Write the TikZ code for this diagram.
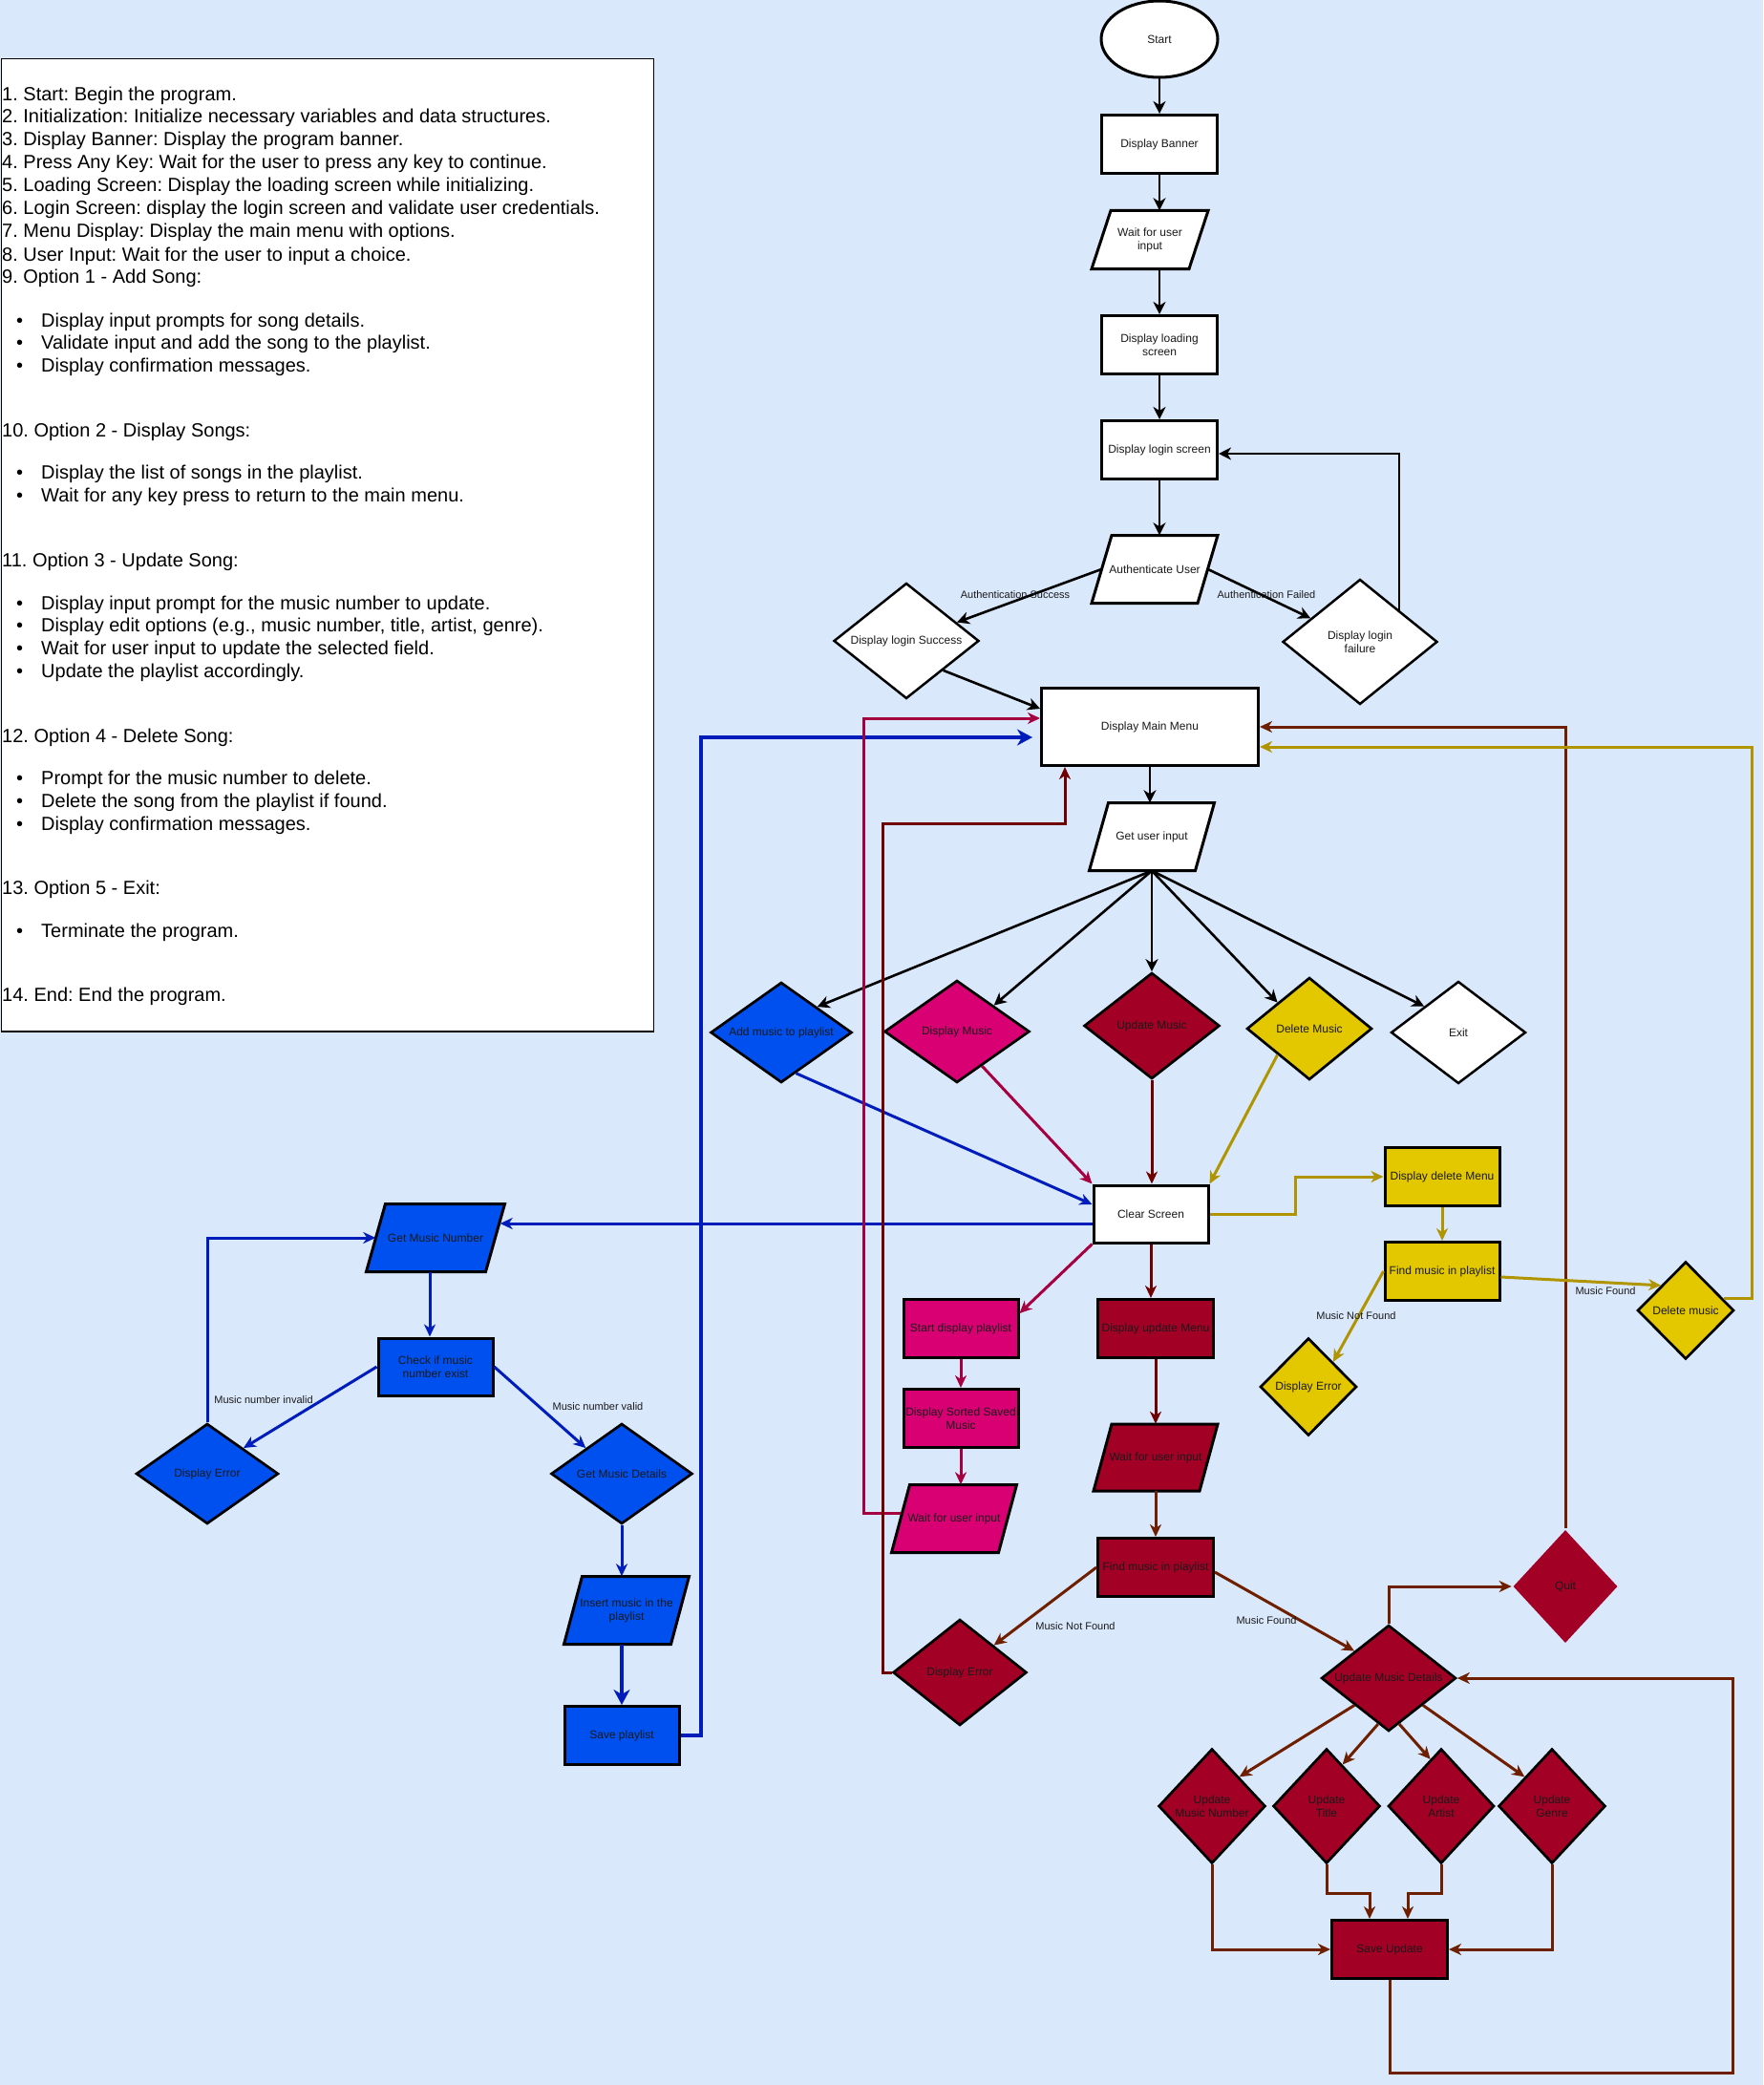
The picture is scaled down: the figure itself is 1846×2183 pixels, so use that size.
\documentclass[tikz,border=0pt]{standalone}
\usepackage{fontspec}
\setmainfont{Liberation Sans}
\usetikzlibrary{shapes.geometric,arrows.meta,calc}
\frenchspacing

\definecolor{bg}{HTML}{DAE8FC}
\definecolor{fblue}{HTML}{0050EF}
\definecolor{lblue}{HTML}{001DBC}
\definecolor{fpink}{HTML}{D80073}
\definecolor{lpink}{HTML}{A50040}
\definecolor{fred}{HTML}{A20025}
\definecolor{lred}{HTML}{6F0000}
\definecolor{lbrown}{HTML}{6D1F00}
\definecolor{fyel}{HTML}{E3C800}
\definecolor{lyel}{HTML}{B09500}
\definecolor{txt}{HTML}{1A1A1A}

\tikzset{
  base/.style={font=\fontsize{12}{14}\selectfont, text=txt, align=center, inner sep=0pt},
  box/.style={base, rectangle, draw=black, line width=3pt, fill=white},
  ell/.style={base, ellipse, draw=black, line width=3pt, fill=white},
  dia/.style={diamond, draw=black, line width=2.7pt, fill=white, inner sep=0pt},
  dtxt/.style={base},
  ptxt/.style={anchor=base west, font=\fontsize{20}{24}\selectfont, inner sep=0pt, text=black},
  elabel/.style={font=\fontsize{11}{13}\selectfont, text=txt, inner sep=0pt},
  conn/.style={draw=black, line width=2.6pt, -{Stealth[length=13pt,width=13pt,inset=4pt]}},
  ctip/.style={-{Stealth[length=13pt,width=12pt,inset=4pt]}},
  bconn/.style={draw=lblue, line width=3pt, ctip},
  pconn/.style={draw=lpink, line width=3pt, ctip},
  rconn/.style={draw=lred, line width=3pt, ctip},
  brconn/.style={draw=lbrown, line width=3pt, ctip},
  yconn/.style={draw=lyel, line width=3pt, ctip},
  bigtip/.style={-{Stealth[length=16pt,width=17pt,inset=5pt]}},
}

% parallelogram: name, cx, cy, edge width, height, skew, fill, text
\newcommand\paral[8]{%
  \filldraw[fill=#7, draw=black, line width=3pt]
    ({#2-#4/2+#6/2},{#3-#5/2}) -- ({#2+#4/2+#6/2},{#3-#5/2}) --
    ({#2+#4/2-#6/2},{#3+#5/2}) -- ({#2-#4/2-#6/2},{#3+#5/2}) -- cycle;
  \node[base, minimum width=#4pt, minimum height=#5pt] (#1) at (#2,#3) {#8};
}

\begin{document}
\begin{tikzpicture}[x=1pt,y=-1pt]
\fill[bg] (0,0) rectangle (1846,2183);
\useasboundingbox (0,0) rectangle (1846,2183);

% ---------------- text panel ----------------
\node[draw=black, line width=1.5pt, fill=white, inner sep=0pt, anchor=north west,
      minimum width=683pt, minimum height=1018pt] (panel) at (0.75,61) {};
\node[ptxt] (p1) at (2,105.5) {1. Start: Begin the program.};
\node[ptxt] (p2) at (2,129) {2. Initialization: Initialize necessary variables and data structures.};
\node[ptxt] (p3) at (2,153) {3. Display Banner: Display the program banner.};
\node[ptxt] (p4) at (2,176.5) {4. Press Any Key: Wait for the user to press any key to continue.};
\node[ptxt] (p5) at (2,201) {5. Loading Screen: Display the loading screen while initializing.};
\node[ptxt] (p6) at (2,225) {6. Login Screen: display the login screen and validate user credentials.};
\node[ptxt] (p7) at (2,249) {7. Menu Display: Display the main menu with options.};
\node[ptxt] (p8) at (2,273) {8. User Input: Wait for the user to input a choice.};
\node[ptxt] (p9) at (2,296.5) {9. Option 1 - Add Song:};
\node[ptxt] (b1) at (17,342) {•};
\node[ptxt] (q1) at (43,342) {Display input prompts for song details.};
\node[ptxt] (b2) at (17,365) {•};
\node[ptxt] (q2) at (43,365) {Validate input and add the song to the playlist.};
\node[ptxt] (b3) at (17,389) {•};
\node[ptxt] (q3) at (43,389) {Display confirmation messages.};
\node[ptxt] (p10) at (2,457.5) {10. Option 2 - Display Songs:};
\node[ptxt] (b4) at (17,501) {•};
\node[ptxt] (q4) at (43,501) {Display the list of songs in the playlist.};
\node[ptxt] (b5) at (17,525) {•};
\node[ptxt] (q5) at (43,525) {Wait for any key press to return to the main menu.};
\node[ptxt] (p11) at (2,593) {11. Option 3 - Update Song:};
\node[ptxt] (b6) at (17,638) {•};
\node[ptxt] (q6) at (43,638) {Display input prompt for the music number to update.};
\node[ptxt] (b7) at (17,661) {•};
\node[ptxt] (q7) at (43,661) {Display edit options (e.g., music number, title, artist, genre).};
\node[ptxt] (b8) at (17,685) {•};
\node[ptxt] (q8) at (43,685) {Wait for user input to update the selected field.};
\node[ptxt] (b9) at (17,709) {•};
\node[ptxt] (q9) at (43,709) {Update the playlist accordingly.};
\node[ptxt] (p12) at (2,777) {12. Option 4 - Delete Song:};
\node[ptxt] (b10) at (17,821) {•};
\node[ptxt] (q10) at (43,821) {Prompt for the music number to delete.};
\node[ptxt] (b11) at (17,845) {•};
\node[ptxt] (q11) at (43,845) {Delete the song from the playlist if found.};
\node[ptxt] (b12) at (17,869) {•};
\node[ptxt] (q12) at (43,869) {Display confirmation messages.};
\node[ptxt] (p13) at (2,936.5) {13. Option 5 - Exit:};
\node[ptxt] (b13) at (17,981) {•};
\node[ptxt] (q13) at (43,981) {Terminate the program.};
\node[ptxt] (p14) at (2,1048) {14. End: End the program.};

% ---------------- top flow ----------------
\node[ell, minimum width=122pt, minimum height=80pt] (start) at (1214,41) {Start};
\node[box, minimum width=121pt, minimum height=61pt] (banner) at (1214,151) {Display Banner};
\paral{wait1}{1204}{251}{102}{61}{20}{white}{Wait for user\\input}
\node[box, minimum width=121pt, minimum height=61pt] (loading) at (1214,361) {Display loading\\screen};
\node[box, minimum width=121pt, minimum height=61pt] (login) at (1214,471) {Display login screen};
\paral{auth}{1209}{596}{111}{71}{21}{white}{Authenticate User}
\node[dia, line width=2.5pt, minimum width=152pt, minimum height=121pt, label={[dtxt]center:Display login Success}] (succ) at (949,671) {};
\node[dia, line width=2.5pt, minimum width=162pt, minimum height=131pt, label={[dtxt]center:{Display login\\failure}}] (fail) at (1424,672) {};
\node[box, minimum width=227pt, minimum height=81pt] (menu) at (1204,761) {Display Main Menu};
\paral{getin}{1206}{876}{111}{71}{20}{white}{Get user input}

% option diamonds
\node[dia, fill=fblue, minimum width=148pt, minimum height=105pt, label={[dtxt]center:Add music to playlist}] (add) at (818,1081) {};
\node[dia, fill=fpink, minimum width=152pt, minimum height=107pt, label={[dtxt]center:Display Music}] (dispM) at (1002,1080) {};
\node[dia, fill=fred, minimum width=142pt, minimum height=111pt, label={[dtxt]center:Update Music}] (updM) at (1206,1074) {};
\node[dia, fill=fyel, minimum width=131pt, minimum height=107pt, label={[dtxt]center:Delete Music}] (delM) at (1371,1077) {};
\node[dia, line width=2.5pt, minimum width=141pt, minimum height=107pt, label={[dtxt]center:Exit}] (exit) at (1527,1081) {};

\node[box, minimum width=120pt, minimum height=60pt] (clear) at (1205,1271) {Clear Screen};

% yellow branch
\node[box, fill=fyel, minimum width=120pt, minimum height=61pt] (delmenu) at (1510,1232) {Display delete Menu};
\node[box, fill=fyel, minimum width=120pt, minimum height=61pt] (findY) at (1510,1331) {Find music in playlist};
\node[dia, fill=fyel, minimum width=101pt, minimum height=102pt, label={[dtxt]center:Delete music}] (delmusic) at (1765,1372) {};
\node[dia, fill=fyel, minimum width=101pt, minimum height=102pt, label={[dtxt]center:Display Error}] (errY) at (1370,1452) {};

% pink branch
\node[box, fill=fpink, minimum width=120pt, minimum height=61pt] (startdisp) at (1006,1391) {Start display playlist};
\node[box, fill=fpink, minimum width=120pt, minimum height=61pt] (sorted) at (1006,1485) {Display Sorted Saved\\Music};
\paral{pwait}{999}{1590}{112}{71}{19}{fpink}{Wait for user input}

% red branch
\node[box, fill=fred, minimum width=121pt, minimum height=61pt] (updmenu) at (1210,1391) {Display update Menu};
\paral{rwait}{1210}{1526}{111}{70}{19}{fred}{Wait for user input}
\node[box, fill=fred, minimum width=121pt, minimum height=61pt] (findR) at (1210,1641) {Find music in playlist};
\node[dia, fill=fred, minimum width=140pt, minimum height=111pt, label={[dtxt]center:Display Error}] (errR) at (1005,1751) {};
\node[dia, fill=fred, minimum width=141pt, minimum height=111pt, label={[dtxt]center:Update Music Details}] (umd) at (1454,1757) {};
\node[dia, fill=fred, draw=none, minimum width=110pt, minimum height=119pt, label={[dtxt]center:Quit}] (quit) at (1639,1661) {};
\node[dia, fill=fred, minimum width=112pt, minimum height=120pt, label={[dtxt]center:{Update\\Music Number}}] (umn) at (1269,1891) {};
\node[dia, fill=fred, minimum width=112pt, minimum height=120pt, label={[dtxt]center:{Update\\Title}}] (utitle) at (1389,1891) {};
\node[dia, fill=fred, minimum width=111pt, minimum height=120pt, label={[dtxt]center:{Update\\Artist}}] (uartist) at (1509,1891) {};
\node[dia, fill=fred, minimum width=112pt, minimum height=120pt, label={[dtxt]center:{Update\\Genre}}] (ugenre) at (1625,1891) {};
\node[box, fill=fred, minimum width=121pt, minimum height=61pt] (saveupd) at (1455,2041) {Save Update};

% blue branch
\paral{GMN}{456}{1296}{125}{71}{20}{fblue}{Get Music Number}
\node[box, fill=fblue, minimum width=120pt, minimum height=60pt] (check) at (456,1431) {Check if music\\number exist};
\node[dia, fill=fblue, minimum width=149pt, minimum height=105pt, label={[dtxt]center:Display Error}] (errB) at (217,1543) {};
\node[dia, fill=fblue, minimum width=148pt, minimum height=105pt, label={[dtxt]center:Get Music Details}] (gmd) at (651,1543) {};
\paral{insert}{656}{1686}{112}{71}{19}{fblue}{Insert music in the\\playlist}
\node[box, fill=fblue, minimum width=120pt, minimum height=61pt] (save) at (651,1817) {Save playlist};

% ---------------- connectors: black ----------------
\draw[conn] (start) -- (banner);
\draw[conn] (banner.south) -- (banner.south |- wait1.north);
\draw[conn] (wait1.south -| loading.north) -- (loading.north);
\draw[conn] (loading) -- (login);
\draw[conn] (login.south) -- (login.south |- auth.north);
\draw[conn] (auth.west) -- (succ);
\draw[conn] (auth.east) -- (fail);
\coordinate (failout) at (1465,639);
\draw[conn] (failout) |- ([yshift=-4pt]login.east);
\draw[conn] (succ.south east) -- ([yshift=19pt]menu.west);
\draw[conn] (menu.south) -- (menu.south |- getin.north);
\draw[conn] (getin.south) -- (add.north east);
\draw[conn] (getin.south) -- (dispM.north east);
\draw[conn] (getin.south) -- (updM.north);
\draw[conn] (getin.south) -- (delM.north west);
\draw[conn] (getin.south) -- (exit.north west);

\node[elabel] (la1) at (1063,623) {Authentication Success};
\node[elabel] (la2) at (1326,623) {Authentication Failed};

% ---------------- blue ----------------
\draw[bconn] (add.-70) -- ([yshift=10pt]clear.west);
\draw[bconn] ([yshift=-10pt]clear.west) -- ([xshift=5pt,yshift=15pt]GMN.east);
\draw[bconn] ([xshift=-6pt]GMN.south) -- ([xshift=-6pt]check.north);
\draw[bconn] (check.west) -- (errB.north east);
\draw[bconn] (errB.north) |- (GMN.west);
\draw[bconn] (check.east) -- (gmd.north west);
\draw[bconn] (gmd.south) -- (gmd.south |- insert.north);
\draw[bconn, line width=4.5pt, bigtip] (save.north |- insert.south) -- (save.north);
\coordinate (bl) at (734,772);
\draw[bconn, line width=4.5pt, bigtip, shorten >=8pt] (save.east) -| (bl) -- ([yshift=-11pt]menu.west);
\node[elabel] (lb1) at (276,1466) {Music number invalid};
\node[elabel] (lb2) at (626,1473) {Music number valid};

% ---------------- pink ----------------
\draw[pconn] (dispM.-54) -- (clear.north west);
\draw[pconn] (clear.south west) -- ([yshift=16pt]startdisp.east);
\draw[pconn] (startdisp) -- (sorted);
\draw[pconn] (sorted.south) -- (sorted.south |- pwait.north);
\coordinate (pk) at (904,752);
\draw[pconn] ([yshift=6pt]pwait.west) -| (pk) -- ([yshift=9pt]menu.west);

% ---------------- red / brown ----------------
\draw[rconn] (updM.south) -- (updM.south |- clear.north);
\draw[rconn] (clear.south) -- (clear.south |- updmenu.north);
\draw[rconn] (updmenu.south) -- (updmenu.south |- rwait.north);
\draw[brconn] (rwait.south) -- (findR.north);
\draw[brconn] (findR.west) -- (errR.north east);
\coordinate (r1) at (924,862);
\draw[rconn] (errR.west) -| (r1) -| ([xshift=-89pt]menu.south);
\draw[brconn] ([yshift=-5pt]findR.east) -- (umd.north west);
\draw[brconn] (umd.north) |- (quit.west);
\draw[brconn] (quit.north) |- (menu.east);
\draw[brconn] (umd.south west) -- (umn.north east);
\draw[brconn] (umd.-103) -- (utitle.69);
\draw[brconn] (umd.-77) -- (uartist.103);
\draw[brconn] (umd.south east) -- (ugenre.north west);
\draw[brconn] (umn.south) |- (saveupd.west);
\draw[brconn] (utitle.south) -- ++(0,30) -| ([xshift=-21pt]saveupd.north);
\draw[brconn] (uartist.south) -- ++(0,30) -| ([xshift=19pt]saveupd.north);
\draw[brconn] (ugenre.south) |- (saveupd.east);
\coordinate (lp) at (1814,2170);
\draw[brconn] (saveupd.south) |- (lp) |- (umd.east);
\node[elabel] (lr1) at (1126,1703) {Music Not Found};
\node[elabel] (lr2) at (1326,1697) {Music Found};

% ---------------- yellow ----------------
\draw[yconn] (delM.south west) -- (clear.north east);
\coordinate (y1) at (1356,1232);
\draw[yconn] (clear.east) -| (y1) -- (delmenu.west);
\draw[yconn] (delmenu) -- (findY);
\draw[yconn] ([yshift=-6pt]findY.east) -- (delmusic.north west);
\draw[yconn] (findY.west) -- (errY.north east);
\coordinate (yc) at (1834,782);
\draw[yconn] (delmusic.17) -| (yc) -- ([yshift=-21pt]menu.east);
\node[elabel] (ly1) at (1681,1352) {Music Found};
\node[elabel] (ly2) at (1420,1378) {Music Not Found};

\end{tikzpicture}
\end{document}
